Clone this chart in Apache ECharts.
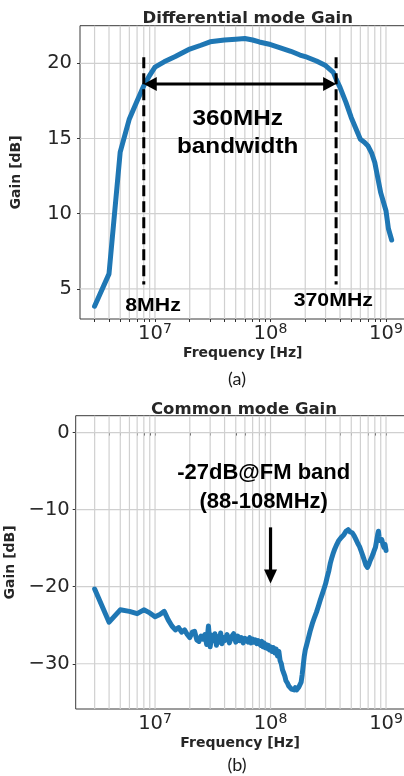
<!DOCTYPE html>
<html>
  <head>
    <title></title>
    <meta charset="UTF-8" />
    <script src="https://cdn.jsdelivr.net/npm/echarts@6/dist/echarts.min.js"></script>
    <style>
      html, body { margin: 0; padding: 0; background: #fff; }
    </style>
  </head>
  <body>
    <div id="main"></div>
    <script>
      // differential mode gain (a)
      const diffFreqMHz = [3, 4, 5, 6, 7, 8, 9, 10, 12, 15, 20, 25, 30, 40, 50, 60, 70, 80, 100, 120,
        150, 180, 200, 250, 300, 350, 370, 400, 450, 500, 600, 650, 700, 750, 800, 900, 1000, 1050, 1120];
      const diffGainDB = [3.85, 6.0, 14.1, 16.3, 17.5, 18.5, 19.2, 19.75, 20.1, 20.45, 20.95, 21.2, 21.43, 21.55, 21.6, 21.65, 21.55, 21.42, 21.25, 21.05,
        20.8, 20.55, 20.45, 20.15, 19.85, 19.4, 18.95, 18.4, 17.4, 16.4, 14.95, 14.75, 14.5, 14.05, 13.4, 11.4, 10.2, 9.0, 8.25];

      // common mode gain (b)
      const commonFreqMHz = [3, 4, 5, 6, 7, 8, 9, 10, 11, 12,
        13, 14, 15, 16, 17, 18, 19, 20, 21, 22,
        23, 24, 25, 26, 27, 28, 29, 30, 31, 32,
        33, 34, 35, 36, 37, 38, 39, 40, 42, 44,
        46, 48, 50, 52, 54, 56, 58, 60, 62, 64,
        66, 68, 70, 72, 74, 76, 78, 80, 82, 84,
        86, 88, 90, 92, 94, 96, 98, 100, 103, 106,
        109, 112, 115, 118, 121, 124, 127, 130, 133, 136,
        140, 144, 148, 152, 156, 160, 164, 168, 172, 176,
        180, 184, 188, 192, 196, 200, 205, 210, 220, 230,
        240, 250, 260, 270, 280, 290, 300, 310, 320, 330,
        340, 350, 360, 375, 390, 410, 430, 450, 470, 490,
        510, 530, 550, 570, 590, 610, 630, 650, 670, 690,
        710, 730, 750, 770, 790, 810, 830, 850, 860, 870,
        880, 900, 920, 940, 960, 980, 1000];
      const commonGainDB = [-20.3, -24.6, -23.0, -23.2, -23.5, -23.0, -23.4, -23.9, -23.6, -23.2,
        -24.3, -25.1, -25.6, -25.3, -25.9, -25.6, -26.2, -26.6, -25.9, -25.8,
        -26.9, -27.1, -26.4, -26.8, -26.2, -27.5, -25.1, -27.8, -26.3, -27.0,
        -26.1, -27.6, -26.5, -27.2, -26.0, -27.4, -26.6, -27.0, -26.2, -27.3,
        -26.5, -26.1, -27.2, -26.4, -27.0, -26.6, -27.3, -26.7, -26.9, -27.2,
        -26.6, -27.3, -26.8, -27.2, -26.9, -27.4, -27.0, -27.3, -27.6, -27.1,
        -27.8, -27.3, -27.9, -27.5, -28.0, -27.6, -28.2, -27.8, -28.4, -27.9,
        -28.6, -28.1, -29.0, -28.4, -29.6, -30.0, -30.8, -31.2, -31.6, -32.2,
        -32.5, -32.9, -33.1, -33.3, -33.2, -33.4, -33.1, -33.4, -33.2, -33.0,
        -32.9, -32.4, -31.4, -30.2, -29.0, -28.2, -27.6, -27.0, -25.8, -24.8,
        -24.0, -23.3, -22.5, -21.7, -21.0, -20.3, -19.6, -18.7, -17.9, -16.9,
        -16.2, -15.6, -15.1, -14.5, -14.0, -13.6, -13.3, -12.8, -12.6, -12.9,
        -13.0, -13.4, -13.9, -14.4, -14.8, -15.4, -16.0, -16.6, -17.2, -17.5,
        -17.1, -16.6, -16.2, -15.8, -15.3, -14.9, -14.0, -13.1, -12.8, -13.5,
        -14.0, -14.1, -13.9, -14.5, -14.9, -14.5, -15.3];

      // ticks
      const decadeExps = [7, 8, 9];
      const minorMults = [2, 3, 4, 5, 6, 7, 8, 9];
      const diffYTicks = [5, 10, 15, 20];
      const commonYTicks = [0, -10, -20, -30];

      // annotations (frequency in Hz, gain in dB)
      const bandEdgesHz = [8e6, 3.7e8];
      const bandEdgeSpanDB = [5.3, 20.4];
      const bandArrowDB = 18.63;
      const diffNotes = [
        { text: '360MHz\nbandwidth', f: 5.2e7, g: 15.39 },
        { text: '8MHz', f: 9.62e6, g: 3.89 },
        { text: '370MHz', f: 3.5e8, g: 4.23 },
      ];
      const fmArrow = { f: 1e8, from: -12.3, to: -19.6 };
      const commonNotes = [
        { text: '-27dB@FM band\n(88-108MHz)', f: 8.73e7, g: -7.1 },
      ];

      const lg = (v) => Math.log10(v);
      const W = 404, H = 776;
      const main = document.getElementById('main');
      main.style.width = `${W}px`;
      main.style.height = `${H}px`;

      const ink = '#262626';
      const blue = '#1f77b4';
      const gridGray = '#d0d0d0';

      // all log-positions of grid lines inside a range
      function logGrid(lo, hi) {
        const out = [];
        [6, 7, 8, 9].forEach((e) => {
          [1].concat(minorMults).forEach((m) => {
            const v = e + lg(m);
            if (v > lo && v < hi) out.push(v);
          });
        });
        return out;
      }

      const ranges = [
        { x: [6.351, 9.169], y: [3.0, 22.5] },
        { x: [6.313, 9.16], y: [-35.87, 2.19] },
      ];

      const supLabel = {
        customValues: decadeExps,
        formatter: (v) => `{b|10}{s|${Math.round(v)}}`,
        margin: 3,
        rich: {
          b: { fontSize: 19.5, fontFamily: 'DejaVu Sans', color: ink, verticalAlign: 'bottom' },
          s: { fontSize: 14, fontFamily: 'DejaVu Sans', color: ink, verticalAlign: 'bottom', padding: [0, 0, 8, 0] },
        },
      };
      const nameStyle = { fontFamily: 'DejaVu Sans', fontWeight: 'bold', fontSize: 14, color: ink };
      const fmtY = (v) => (v < 0 ? '\u2212' + Math.abs(v) : String(v));

      function xAxisFor(i) {
        return {
          type: 'value', gridIndex: i, min: ranges[i].x[0], max: ranges[i].x[1],
          axisLine: { show: false },
          splitLine: { show: false },
          axisTick: { show: true, customValues: logGrid(ranges[i].x[0], ranges[i].x[1]), length: 3, lineStyle: { color: '#333', width: 1 } },
          axisLabel: supLabel,
          name: 'Frequency [Hz]', nameLocation: 'middle', nameGap: 27,
          nameTextStyle: nameStyle,
        };
      }
      function yAxisFor(i, ticks, margin, gap) {
        return {
          type: 'value', gridIndex: i, min: ranges[i].y[0], max: ranges[i].y[1],
          axisLine: { show: false },
          splitLine: { show: false },
          axisTick: { show: true, customValues: ticks, length: 3, lineStyle: { color: '#333', width: 1 } },
          axisLabel: { customValues: ticks, formatter: fmtY, margin: margin, fontSize: 19.5, fontFamily: 'DejaVu Sans', color: ink },
          name: 'Gain [dB]', nameLocation: 'middle', nameGap: gap, nameRotate: 90,
          nameTextStyle: nameStyle,
        };
      }

      // grid line series (vertical + horizontal)
      function gridLines(i, yTicks) {
        const v = logGrid(ranges[i].x[0], ranges[i].x[1]).map((x) => [x, ranges[i].y[0], 0]);
        const h = yTicks.map((y) => [ranges[i].x[0], y, 1]);
        return {
          type: 'custom', xAxisIndex: i, yAxisIndex: i, z: 1, silent: true,
          data: v.concat(h),
          renderItem: (params, api) => {
            const cs = params.coordSys;
            const p = api.coord([api.value(0), api.value(1)]);
            const shape = api.value(2) === 0
              ? { x1: p[0], y1: cs.y, x2: p[0], y2: cs.y + cs.height }
              : { x1: cs.x, y1: p[1], x2: cs.x + cs.width, y2: p[1] };
            return { type: 'line', shape, style: { stroke: gridGray, lineWidth: 1.2 } };
          },
        };
      }

      function arrowShapes(p1, p2, headStart, headEnd, len, half, lw) {
        const dx = p2[0] - p1[0], dy = p2[1] - p1[1];
        const d = Math.hypot(dx, dy), ux = dx / d, uy = dy / d;
        const nx = -uy, ny = ux;
        const a = headStart ? [p1[0] + ux * len * 0.8, p1[1] + uy * len * 0.8] : p1;
        const b = headEnd ? [p2[0] - ux * len * 0.8, p2[1] - uy * len * 0.8] : p2;
        const kids = [{ type: 'line', shape: { x1: a[0], y1: a[1], x2: b[0], y2: b[1] }, style: { stroke: '#000', lineWidth: lw } }];
        const head = (tip, sx, sy) => ({
          type: 'polygon',
          shape: { points: [tip, [tip[0] + sx * len + nx * half, tip[1] + sy * len + ny * half], [tip[0] + sx * len - nx * half, tip[1] + sy * len - ny * half]] },
          style: { fill: '#000' },
        });
        if (headStart) kids.push(head(p1, ux, uy));
        if (headEnd) kids.push(head(p2, -ux, -uy));
        return { type: 'group', children: kids };
      }

      function notesSeries(i, notes, size, sx) {
        return {
          type: 'custom', xAxisIndex: i, yAxisIndex: i, z: 5, silent: true,
          data: notes.map((n) => [lg(n.f), n.g]),
          renderItem: (params, api) => {
            const p = api.coord([api.value(0), api.value(1)]);
            const n = notes[params.dataIndex];
            const s = sx[params.dataIndex];
            return {
              type: 'text', x: p[0], y: p[1], scaleX: s,
              style: {
                text: n.text, fill: '#000', align: 'center', verticalAlign: 'middle',
                font: `bold ${size[params.dataIndex]}px "Liberation Sans", Arial, sans-serif`,
                lineHeight: size[params.dataIndex] * 1.3,
              },
            };
          },
        };
      }

      const chart = echarts.init(main, null, { renderer: 'canvas' });
      chart.setOption({
        backgroundColor: '#fff',
        animation: false,
        title: [
          { text: 'Differential mode Gain', left: 242.75, top: 5, textAlign: 'center',
            textStyle: { fontFamily: 'DejaVu Sans', fontWeight: 'bold', fontSize: 16.5, color: ink } },
          { text: 'Common mode Gain', left: 239, top: 396, textAlign: 'center',
            textStyle: { fontFamily: 'DejaVu Sans', fontWeight: 'bold', fontSize: 16.5, color: ink } },
          { text: '(a)', left: 232, top: 365, textAlign: 'center',
            textStyle: { fontFamily: 'Lato', fontWeight: 'normal', fontSize: 18, color: '#1a1a1a' } },
          { text: '(b)', left: 232, top: 751, textAlign: 'center',
            textStyle: { fontFamily: 'Lato', fontWeight: 'normal', fontSize: 18, color: '#1a1a1a' } },
        ],
        grid: [
          { left: 80, top: 25.7, width: 325.5, height: 293.3, show: true, borderColor: '#3a3a3a', borderWidth: 1, backgroundColor: 'transparent', outerBoundsMode: 'none' },
          { left: 75.7, top: 415.7, width: 328.8, height: 293.3, show: true, borderColor: '#3a3a3a', borderWidth: 1, backgroundColor: 'transparent', outerBoundsMode: 'none' },
        ],
        xAxis: [xAxisFor(0), xAxisFor(1)],
        yAxis: [yAxisFor(0, diffYTicks, 8, 57), yAxisFor(1, commonYTicks, 6, 53)],
        series: [
          gridLines(0, diffYTicks),
          gridLines(1, commonYTicks),
          {
            type: 'line', xAxisIndex: 0, yAxisIndex: 0, z: 3, showSymbol: false, silent: true,
            data: diffFreqMHz.map((f, k) => [lg(f * 1e6), diffGainDB[k]]),
            lineStyle: { color: blue, width: 5, cap: 'round', join: 'round' },
          },
          {
            type: 'line', xAxisIndex: 1, yAxisIndex: 1, z: 3, showSymbol: false, silent: true,
            data: commonFreqMHz.map((f, k) => [lg(f * 1e6), commonGainDB[k]]),
            lineStyle: { color: blue, width: 5, cap: 'round', join: 'round' },
          },
          {
            // dashed band edges
            type: 'custom', xAxisIndex: 0, yAxisIndex: 0, z: 4, silent: true,
            data: bandEdgesHz.map((f) => [lg(f), bandEdgeSpanDB[0], bandEdgeSpanDB[1]]),
            renderItem: (params, api) => {
              const a = api.coord([api.value(0), api.value(1)]);
              const b = api.coord([api.value(0), api.value(2)]);
              return { type: 'line', shape: { x1: a[0], y1: b[1], x2: a[0], y2: a[1] },
                style: { stroke: '#000', lineWidth: 3, lineDash: [11, 5] } };
            },
          },
          {
            // bandwidth double arrow
            type: 'custom', xAxisIndex: 0, yAxisIndex: 0, z: 4, silent: true,
            data: [[lg(bandEdgesHz[0]), bandArrowDB, lg(bandEdgesHz[1]), bandArrowDB]],
            renderItem: (params, api) => arrowShapes(
              api.coord([api.value(0), api.value(1)]), api.coord([api.value(2), api.value(3)]),
              true, true, 13, 7, 3),
          },
          {
            // FM band arrow
            type: 'custom', xAxisIndex: 1, yAxisIndex: 1, z: 4, silent: true,
            data: [[lg(fmArrow.f), fmArrow.from, lg(fmArrow.f), fmArrow.to]],
            renderItem: (params, api) => arrowShapes(
              api.coord([api.value(0), api.value(1)]), api.coord([api.value(2), api.value(3)]),
              false, true, 14, 6.5, 3.2),
          },
          notesSeries(0, diffNotes, [21.5, 18.5, 18.5], [1.13, 1.15, 1.15]),
          notesSeries(1, commonNotes, [22], [1.0]),
        ],
      });
    </script>
  </body>
</html>
